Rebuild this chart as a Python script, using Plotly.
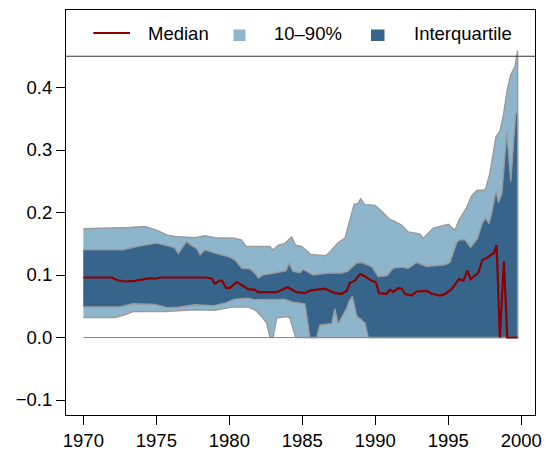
import plotly.graph_objects as go

# ---------------- data ----------------
med_years = [1970.0, 1971.96, 1972.28, 1972.85, 1973.53, 1973.88, 1974.56, 1974.9, 1975.25,
             1978.45, 1978.8, 1979.0, 1979.36, 1979.5, 1979.77, 1980.04, 1980.5, 1980.86,
             1981.3, 1981.75, 1981.98, 1983.24, 1983.6, 1983.99, 1984.29, 1984.61, 1985.18,
             1985.52, 1986.55, 1987.23, 1987.69, 1988.05, 1988.25, 1988.6, 1988.95, 1989.29,
             1989.75, 1990.04, 1990.25, 1990.78, 1991.0, 1991.23, 1991.57, 1991.82, 1992.03,
             1992.49, 1992.83, 1993.52, 1993.86, 1994.43, 1994.77, 1995.23, 1995.73, 1996.05,
             1996.3, 1996.53, 1996.87, 1997.05, 1997.33, 1997.63, 1997.97, 1998.12, 1998.31,
             1998.53, 1998.81, 1999.04, 1999.75]
med_vals = [0.096, 0.096, 0.092, 0.0896, 0.0907, 0.092, 0.095, 0.094, 0.096,
            0.096, 0.094, 0.086, 0.091, 0.091, 0.0795, 0.0795, 0.0886, 0.0835,
            0.0774, 0.0763, 0.0726, 0.0726, 0.0763, 0.0806, 0.0763, 0.0726, 0.071,
            0.075, 0.078, 0.071, 0.070, 0.0747, 0.087, 0.091, 0.1014, 0.098,
            0.0907, 0.0886, 0.071, 0.070, 0.0763, 0.073, 0.079, 0.078, 0.070,
            0.067, 0.0736, 0.0747, 0.070, 0.067, 0.0694, 0.0774, 0.0934, 0.091,
            0.107, 0.0934, 0.100, 0.103, 0.124, 0.127, 0.133, 0.135, 0.148,
            0.0, 0.1216, 0.0, 0.0]

p90_years = [1970.0, 1971.96, 1973.2, 1974.22, 1974.56, 1975.1, 1975.7, 1976.27, 1977.64,
             1978.33, 1979.01, 1980.37, 1980.84, 1981.14, 1982.21, 1982.78, 1983.0, 1983.34,
             1983.82, 1984.02, 1984.27, 1984.54, 1984.95, 1985.57, 1986.6, 1986.92, 1987.46,
             1987.92, 1988.26, 1988.55, 1988.81, 1989.0, 1989.28, 1989.97, 1990.45, 1990.99,
             1991.33, 1991.8, 1992.25, 1993.05, 1993.28, 1993.6, 1993.97, 1995.0, 1995.45,
             1995.73, 1996.25, 1996.6, 1996.97, 1997.45, 1997.58, 1997.85, 1998.26, 1998.53,
             1998.76, 1999.04, 1999.27, 1999.57, 1999.75]
p90_vals = [0.174, 0.1747, 0.176, 0.1776, 0.1755, 0.171, 0.164, 0.1616, 0.1595,
            0.1627, 0.1595, 0.159, 0.156, 0.146, 0.1456, 0.1456, 0.140, 0.1475,
            0.1507, 0.156, 0.161, 0.1475, 0.1456, 0.133, 0.1307, 0.1376, 0.152,
            0.159, 0.190, 0.213, 0.2147, 0.222, 0.2123, 0.2118, 0.2016, 0.189,
            0.1856, 0.180, 0.169, 0.1656, 0.1584, 0.166, 0.175, 0.181, 0.1715,
            0.188, 0.2075, 0.2267, 0.2355, 0.2355, 0.2395, 0.263, 0.3206, 0.3296,
            0.3536, 0.396, 0.420, 0.4336, 0.459]

p75_years = [1970.0, 1972.71, 1973.74, 1975.02, 1975.8, 1976.27, 1976.5, 1977.06, 1977.44,
             1977.78, 1977.99, 1978.33, 1979.01, 1979.93, 1980.38, 1980.84, 1981.41, 1981.75,
             1981.98, 1982.32, 1982.78, 1983.58, 1983.88, 1984.08, 1984.36, 1984.84, 1985.05,
             1985.75, 1986.78, 1987.69, 1988.12, 1988.72, 1989.06, 1989.75, 1990.09, 1990.2,
             1990.8, 1991.23, 1991.8, 1992.25, 1992.83, 1993.52, 1994.77, 1995.12, 1995.57,
             1995.8, 1996.14, 1996.53, 1996.99, 1997.33, 1997.56, 1997.79, 1997.97, 1998.27,
             1998.44, 1998.67, 1999.01, 1999.28, 1999.62, 1999.75]
p75_vals = [0.1403, 0.1403, 0.146, 0.151, 0.1467, 0.1435, 0.134, 0.1536, 0.1467,
            0.142, 0.1323, 0.1403, 0.135, 0.1296, 0.1243, 0.111, 0.110, 0.103,
            0.095, 0.1003, 0.102, 0.1056, 0.1067, 0.119, 0.1056, 0.1035, 0.109,
            0.100, 0.103, 0.103, 0.106, 0.119, 0.120, 0.1136, 0.100, 0.0976,
            0.0987, 0.111, 0.1126, 0.1107, 0.120, 0.1136, 0.1163, 0.1203, 0.152,
            0.1563, 0.1563, 0.1443, 0.158, 0.183, 0.191, 0.182, 0.199, 0.2347,
            0.216, 0.230, 0.3296, 0.2496, 0.359, 0.359]

p25_years = [1970.0, 1972.5, 1973.4, 1974.9, 1975.8, 1976.48, 1977.64, 1978.88, 1979.71,
             1980.38, 1981.27, 1981.75, 1983.8, 1984.27, 1985.18, 1985.52, 1985.98, 1986.21,
             1987.01, 1987.23, 1987.45, 1987.8, 1988.05, 1988.19, 1988.43, 1988.72, 1989.29,
             1989.52, 1999.75]
p25_vals = [0.049, 0.049, 0.054, 0.053, 0.0475, 0.0483, 0.0523, 0.0507, 0.055,
            0.0614, 0.063, 0.0603, 0.061, 0.057, 0.054, 0.0, 0.0, 0.0203,
            0.022, 0.046, 0.022, 0.036, 0.047, 0.0576, 0.0656, 0.0347, 0.023,
            0.0, 0.0]

p10_years = [1970.0, 1972.16, 1972.85, 1973.4, 1975.6, 1977.64, 1979.0, 1980.16, 1981.3,
             1981.75, 1982.21, 1982.56, 1982.78, 1983.0, 1983.24, 1983.92, 1984.15, 1984.32,
             1984.54, 1999.75]
p10_vals = [0.032, 0.032, 0.0363, 0.0416, 0.0416, 0.0443, 0.0435, 0.0486, 0.0486,
            0.0443, 0.0336, 0.023, 0.0, 0.0, 0.031, 0.0336, 0.0315, 0.0176,
            0.0, 0.0]

x_ticks = [1970, 1975, 1980, 1985, 1990, 1995, 2000]
y_ticks = [-0.1, 0.0, 0.1, 0.2, 0.3, 0.4]
legend_labels = ["Median", "10\u201390%", "Interquartile"]

# ---------------- styling ----------------
LIGHT = "#8DB6CD"   # lightskyblue3
DARK = "#36648B"    # steelblue4
MED = "#8B0000"     # darkred
EDGE = "#9a9a9a"
FONT = "Liberation Sans, Arial, Helvetica, sans-serif"
FS = 18.5

W, H = 545, 450
ML, MR, MT, MB = 66, 10, 10, 35
PW, PH = W - ML - MR, H - MT - MB


def px(x):
    return (x - ML) / PW


def py(y):
    return (H - MB - y) / PH


fig = go.Figure()

fig.add_trace(go.Scatter(
    x=p90_years + p10_years[::-1], y=p90_vals + p10_vals[::-1],
    fill="toself", fillcolor=LIGHT, mode="lines",
    line=dict(color=EDGE, width=1.4), hoverinfo="skip", showlegend=False))

fig.add_trace(go.Scatter(
    x=p75_years + p25_years[::-1], y=p75_vals + p25_vals[::-1],
    fill="toself", fillcolor=DARK, mode="lines",
    line=dict(color=EDGE, width=1.4), hoverinfo="skip", showlegend=False))

fig.add_trace(go.Scatter(
    x=[med_years[0], med_years[-1]], y=[0, 0], mode="lines",
    line=dict(color="#8a8a8a", width=1.2), hoverinfo="skip", showlegend=False))

fig.add_trace(go.Scatter(
    x=med_years, y=med_vals, mode="lines",
    line=dict(color=MED, width=2.2), name="Median", showlegend=False))

shapes = [
    # legend separator
    dict(type="line", xref="paper", yref="y", x0=0, x1=1, y0=0.45, y1=0.45,
         line=dict(color="#333333", width=1.1), layer="above"),
    # legend keys
    dict(type="line", xref="paper", yref="paper", x0=px(93.3), x1=px(130), y0=py(33), y1=py(33),
         line=dict(color=MED, width=2.2)),
    dict(type="rect", xref="paper", yref="paper", x0=px(233.5), x1=px(245.5), y0=py(41), y1=py(29.5),
         fillcolor=LIGHT, line=dict(width=0)),
    dict(type="rect", xref="paper", yref="paper", x0=px(371), x1=px(384.5), y0=py(41), y1=py(29.5),
         fillcolor=DARK, line=dict(width=0)),
]

annotations = []
for label, xstart in zip(legend_labels, [146.5, 272.5, 412.5]):
    annotations.append(dict(text=label, xref="paper", yref="paper", x=px(xstart), y=py(34),
                            xanchor="left", yanchor="middle", showarrow=False,
                            font=dict(family=FONT, size=FS, color="black"), borderpad=0))

fig.update_layout(
    template="none",
    width=W, height=H,
    margin=dict(l=ML, r=MR, t=MT, b=MB, autoexpand=False),
    paper_bgcolor="white", plot_bgcolor="white",
    font=dict(family=FONT, size=FS, color="black"),
    shapes=shapes, annotations=annotations, showlegend=False,
    xaxis=dict(range=[1968.81, 2000.94], tickvals=x_ticks, ticks="outside", ticklen=9,
               tickcolor="black", showline=True, mirror=True, linecolor="black", linewidth=1,
               showgrid=False, zeroline=False, automargin=False, tickfont=dict(size=FS)),
    yaxis=dict(range=[-0.124, 0.524], tickvals=y_ticks, tickformat=".1f", ticks="outside",
               ticklen=9, tickcolor="black", showline=True, mirror=True, linecolor="black",
               linewidth=1, showgrid=False, zeroline=False, automargin=False,
               tickfont=dict(size=FS)),
)

fig.write_html("out.html", config={"displayModeBar": False},
               post_script="document.body.style.margin='0';document.body.style.overflow='hidden';")
